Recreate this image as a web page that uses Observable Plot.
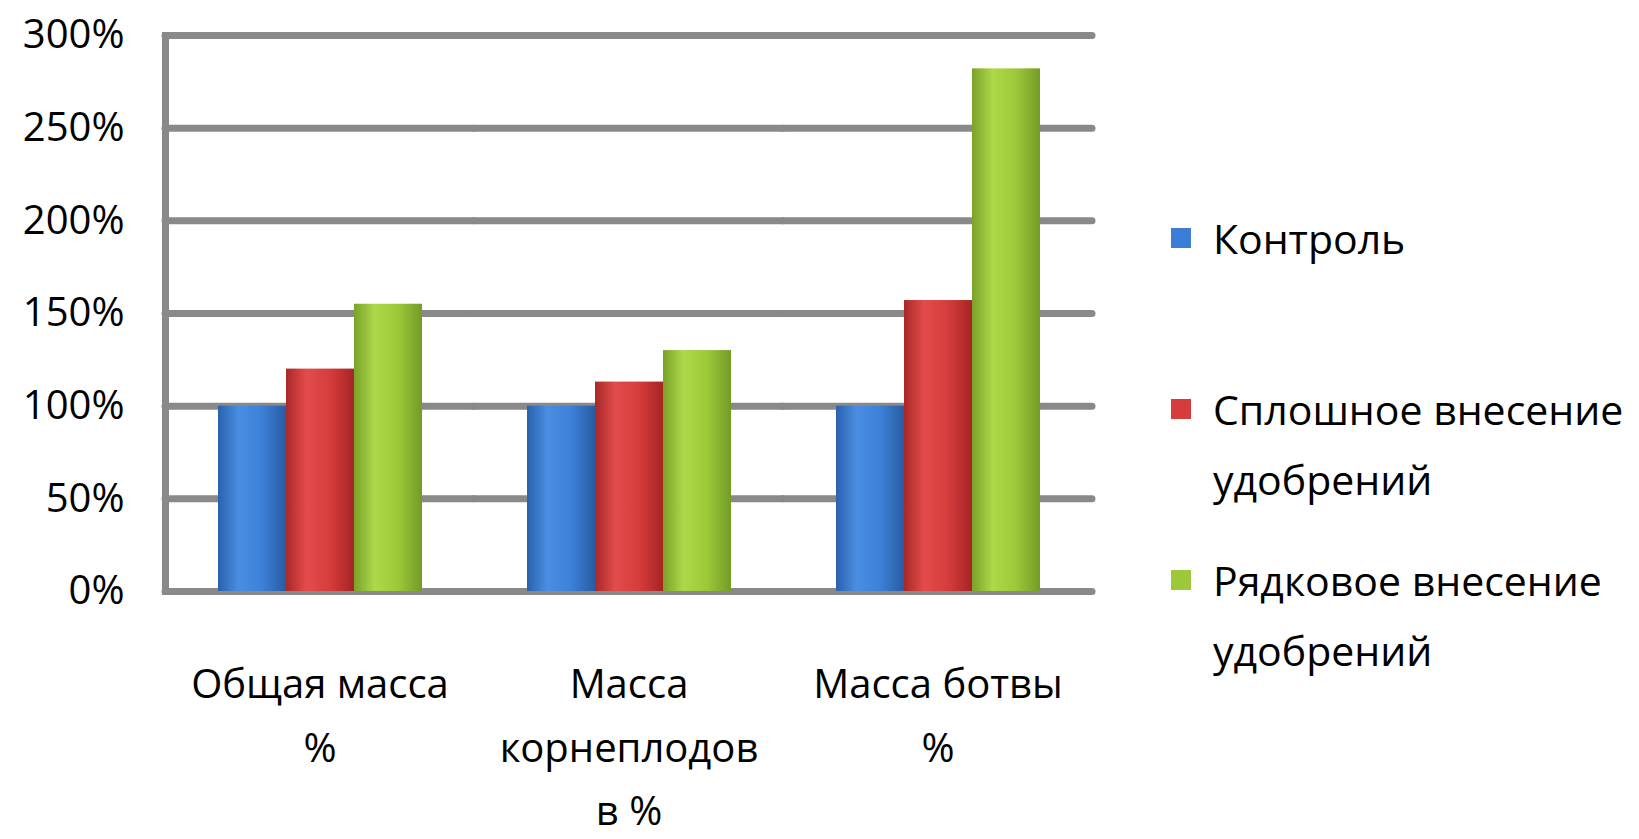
<!DOCTYPE html>
<html><head><meta charset="utf-8">
<script src="https://cdn.jsdelivr.net/npm/d3@7"></script>
<script src="https://cdn.jsdelivr.net/npm/@observablehq/plot@0.6"></script>
<style>
body{margin:0;background:#fff;font-family:"Open Sans",sans-serif;}
#wrap{position:relative;width:1639px;height:839px;}
#chart{position:absolute;left:0;top:0;}
#legend{position:absolute;left:1171px;top:203px;}
.row{display:flex;align-items:flex-start;height:171px;}
.sw{width:20px;height:20px;margin-top:25px;margin-right:22px;flex:none;}
.lab{font-size:41px;line-height:70px;color:#000;white-space:nowrap;}
</style></head><body>
<div id="wrap"><div id="chart"></div><div id="legend"></div></div>
<script>
const categories = ["Общая масса\n%", "Масса\nкорнеплодов\nв %", "Масса ботвы\n%"];
const series = ["Контроль", "Сплошное внесение удобрений", "Рядковое внесение удобрений"];
const legendLines = [["Контроль"], ["Сплошное внесение", "удобрений"], ["Рядковое внесение", "удобрений"]];
const control = [100, 100, 100];
const solid = [120, 113, 157];
const rowwise = [155, 130, 282];
const yTicks = [0, 50, 100, 150, 200, 250, 300];
const colors = ["#3b7dd6", "#d63c3c", "#9cc83a"];
const gradStops = [
  ["#2a61ad", "#4a8ee2", "#3d80d8", "#285ca2"],
  ["#aa2828", "#e24c4c", "#d63c3c", "#a52424"],
  ["#7aa228", "#acd84a", "#9cc83a", "#739b26"]
];

const valuesBySeries = [control, solid, rowwise];
const data = series.flatMap((s, si) => categories.map((c, ci) => ({category: c, series: s, value: valuesBySeries[si][ci]})));

const chart = Plot.plot({
  width: 1150,
  height: 839,
  marginTop: 35,
  marginBottom: 248,
  marginLeft: 164,
  marginRight: 58,
  style: {fontFamily: "'Open Sans', sans-serif", fontSize: "40px", color: "#000", background: "#fff"},
  fx: {domain: categories, padding: 0},
  x: {domain: series, paddingInner: 0, paddingOuter: 0.74, axis: null},
  y: {domain: [0, 300]},
  color: {domain: series, range: series.map((s, i) => `url(#grad${i})`)},
  marks: [
    Plot.ruleY(yTicks, {stroke: "#898989", strokeWidth: 7, strokeLinecap: "round"}),
    Plot.frame({anchor: "left", facet: "super", stroke: "#898989", strokeWidth: 7}),
    Plot.barY(data, {fx: "category", x: "series", y: "value", fill: "series"}),
    Plot.axisY({ticks: yTicks, tickFormat: d => d + "%", tickSize: 0, tickPadding: 41, fontSize: 40, label: null}),
    Plot.axisFx({anchor: "bottom", tickSize: 0, tickPadding: 62, fontSize: 40, lineHeight: 1.58, label: null})
  ]
});

const defs = d3.select(chart).insert("defs", ":first-child");
gradStops.forEach((stops, i) => {
  const g = defs.append("linearGradient").attr("id", `grad${i}`).attr("x1", "0").attr("x2", "1").attr("y1", "0").attr("y2", "0");
  [0, 0.3, 0.65, 1].forEach((o, k) => g.append("stop").attr("offset", o).attr("stop-color", stops[k]));
});

document.getElementById("chart").appendChild(chart);

const legend = d3.select("#legend");
series.forEach((s, i) => {
  const r = legend.append("div").attr("class", "row");
  r.append("div").attr("class", "sw").style("background", colors[i]);
  const lab = r.append("div").attr("class", "lab");
  legendLines[i].forEach(line => lab.append("div").text(line));
});
</script>
</body></html>
